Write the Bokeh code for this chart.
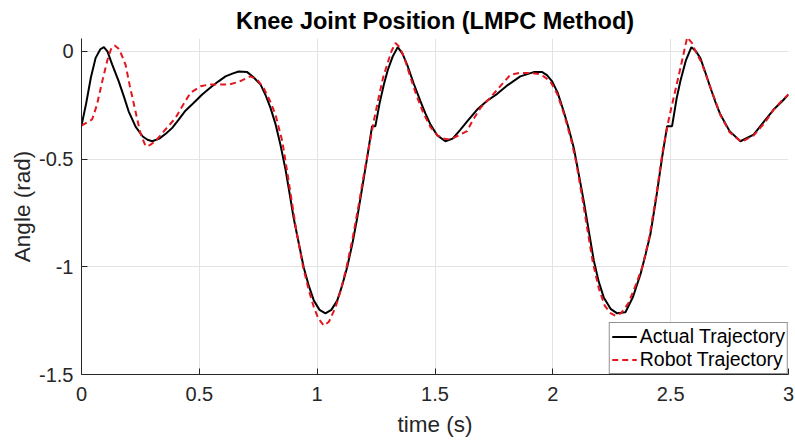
from bokeh.plotting import figure
from bokeh.models import Range1d, FixedTicker, Legend, LegendItem
from bokeh.embed import file_html
from bokeh.resources import INLINE

# ---- data ----
t_actual = [0, 0.02, 0.04, 0.06, 0.08, 0.095, 0.11, 0.13, 0.158, 0.18, 0.2, 0.23, 0.26, 0.28, 0.30,
            0.33, 0.36, 0.385, 0.41, 0.441, 0.47, 0.512, 0.55, 0.58, 0.611, 0.64, 0.667, 0.703, 0.73,
            0.76, 0.78, 0.802, 0.824, 0.844, 0.866, 0.88, 0.90, 0.92, 0.943, 0.965, 0.986, 1.01, 1.035,
            1.06, 1.085, 1.105, 1.127, 1.15, 1.17, 1.19, 1.212, 1.233, 1.247, 1.265, 1.283, 1.30, 1.32,
            1.342, 1.362, 1.382, 1.41, 1.438, 1.46, 1.481, 1.51, 1.544, 1.575, 1.608, 1.64, 1.679, 1.72,
            1.764, 1.81, 1.862, 1.919, 1.955, 1.975, 1.997, 2.02, 2.046, 2.068, 2.089, 2.11, 2.131,
            2.152, 2.174, 2.195, 2.216, 2.245, 2.273, 2.308, 2.34, 2.372, 2.394, 2.414, 2.44, 2.464,
            2.485, 2.506, 2.525, 2.541, 2.565, 2.588, 2.608, 2.626, 2.648, 2.669, 2.69, 2.711, 2.75,
            2.796, 2.852, 2.9, 2.937, 2.97, 3.0]
y_actual = [-0.344, -0.24, -0.12, -0.03, 0.01, 0.02, 0.0, -0.06, -0.139, -0.21, -0.278, -0.35, -0.395,
            -0.41, -0.417, -0.405, -0.38, -0.355, -0.32, -0.275, -0.245, -0.2, -0.165, -0.14, -0.116,
            -0.103, -0.093, -0.096, -0.12, -0.154, -0.2, -0.262, -0.34, -0.432, -0.55, -0.64, -0.772,
            -0.88, -1.003, -1.09, -1.157, -1.2, -1.216, -1.2, -1.157, -1.09, -1.003, -0.89, -0.772,
            -0.64, -0.494, -0.347, -0.347, -0.24, -0.154, -0.085, -0.025, 0.02, -0.01, -0.062, -0.15,
            -0.231, -0.29, -0.34, -0.39, -0.417, -0.405, -0.363, -0.32, -0.27, -0.23, -0.197, -0.155,
            -0.116, -0.096, -0.096, -0.11, -0.139, -0.19, -0.278, -0.36, -0.448, -0.57, -0.694, -0.83,
            -0.972, -1.07, -1.142, -1.195, -1.216, -1.211, -1.14, -1.034, -0.94, -0.849, -0.67, -0.49,
            -0.347, -0.347, -0.22, -0.139, -0.04, 0.02, 0.0, -0.031, -0.1, -0.17, -0.235, -0.293, -0.37,
            -0.417, -0.386, -0.32, -0.27, -0.235, -0.2]

t_robot = [0, 0.045, 0.065, 0.088, 0.11, 0.125, 0.141, 0.16, 0.187, 0.205, 0.229, 0.25, 0.272, 0.29,
           0.314, 0.35, 0.399, 0.43, 0.462, 0.505, 0.54, 0.58, 0.625, 0.67, 0.717, 0.745, 0.773, 0.8,
           0.823, 0.852, 0.873, 0.89, 0.91, 0.94, 0.965, 0.986, 1.005, 1.028, 1.05, 1.078, 1.1, 1.125,
           1.15, 1.175, 1.2, 1.24, 1.26, 1.28, 1.30, 1.315, 1.332, 1.35, 1.37, 1.39, 1.42, 1.45, 1.48,
           1.51, 1.54, 1.565, 1.6, 1.636, 1.66, 1.693, 1.73, 1.77, 1.82, 1.86, 1.905, 1.94, 1.961, 1.99,
           2.02, 2.05, 2.08, 2.1, 2.125, 2.15, 2.17, 2.195, 2.22, 2.245, 2.266, 2.29, 2.32, 2.35, 2.38,
           2.41, 2.44, 2.465, 2.493, 2.52, 2.545, 2.57, 2.59, 2.61, 2.63, 2.65, 2.67, 2.71, 2.75, 2.8,
           2.852, 2.9, 2.937, 2.97, 3.0]
y_robot = [-0.344, -0.316, -0.25, -0.139, -0.04, 0.01, 0.028, 0.01, -0.062, -0.16, -0.278, -0.38,
           -0.44, -0.435, -0.417, -0.37, -0.309, -0.25, -0.193, -0.162, -0.154, -0.154, -0.154, -0.14,
           -0.116, -0.13, -0.17, -0.23, -0.293, -0.417, -0.56, -0.68, -0.82, -1.0, -1.11, -1.188, -1.24,
           -1.273, -1.255, -1.188, -1.11, -1.0, -0.87, -0.72, -0.56, -0.324, -0.22, -0.12, -0.05, 0.0,
           0.039, 0.02, -0.03, -0.1, -0.2, -0.285, -0.35, -0.39, -0.405, -0.409, -0.39, -0.37, -0.32,
           -0.262, -0.22, -0.17, -0.108, -0.1, -0.1, -0.105, -0.116, -0.14, -0.2, -0.3, -0.42, -0.52,
           -0.68, -0.85, -0.98, -1.1, -1.18, -1.215, -1.227, -1.215, -1.17, -1.09, -1.0, -0.86, -0.66,
           -0.47, -0.309, -0.18, -0.06, 0.065, 0.04, -0.01, -0.05, -0.11, -0.17, -0.293, -0.375, -0.42,
           -0.39, -0.33, -0.27, -0.23, -0.2]

x_ticks = [0, 0.5, 1, 1.5, 2, 2.5, 3]
x_tick_labels = ["0", "0.5", "1", "1.5", "2", "2.5", "3"]
y_ticks = [-1.5, -1, -0.5, 0]
y_tick_labels = ["-1.5", "-1", "-0.5", "0"]

FONT = "Liberation Sans"

p = figure(width=795, height=443, output_backend="svg", toolbar_location=None,
           x_range=Range1d(0, 3), y_range=Range1d(-1.5, 0.06),
           min_border_left=81, min_border_right=7, min_border_top=37, min_border_bottom=69)

p.title.text = "Knee Joint Position (LMPC Method)"
p.title.align = "center"
p.title.text_font = FONT
p.title.text_font_size = "23.5px"
p.title.text_font_style = "bold"
p.title.text_color = "#000000"
p.title.offset = 55

p.outline_line_color = None
p.background_fill_color = "white"
p.border_fill_color = "white"

for ax in (p.xaxis[0], p.yaxis[0]):
    ax.axis_line_color = "#262626"
    ax.axis_line_width = 1
    ax.major_tick_line_color = "#262626"
    ax.major_tick_in = 6
    ax.major_tick_out = 0
    ax.minor_tick_line_color = None
    ax.major_label_text_font = FONT
    ax.major_label_text_font_size = "20px"
    ax.major_label_text_color = "#262626"
    ax.axis_label_text_font = FONT
    ax.axis_label_text_font_size = "22.5px"
    ax.axis_label_text_font_style = "normal"
    ax.axis_label_text_color = "#262626"

p.xaxis.ticker = FixedTicker(ticks=x_ticks)
p.yaxis.ticker = FixedTicker(ticks=y_ticks)
p.xaxis.major_label_overrides = {k: v for k, v in zip(x_ticks, x_tick_labels)}
p.yaxis.major_label_overrides = {k: v for k, v in zip(y_ticks, y_tick_labels)}
p.xaxis.axis_label = "time (s)"
p.yaxis.axis_label = "Angle (rad)"
p.xaxis.major_label_standoff = 12
p.yaxis.major_label_standoff = 8
p.xaxis.axis_label_standoff = 8
p.yaxis.axis_label_standoff = 1

p.xgrid.grid_line_color = "#e3e3e3"
p.ygrid.grid_line_color = "#e3e3e3"
p.xgrid.grid_line_width = 1
p.ygrid.grid_line_width = 1

r1 = p.line(t_actual, y_actual, line_color="black", line_width=2)
r2 = p.line(t_robot, y_robot, line_color="#e4161e", line_width=2, line_dash="6 4")

legend = Legend(items=[LegendItem(label="Actual Trajectory", renderers=[r1]),
                       LegendItem(label="Robot Trajectory", renderers=[r2])],
                location="bottom_right")
legend.label_text_font = FONT
legend.label_text_font_size = "19.5px"
legend.label_text_color = "#000000"
legend.border_line_color = "#262626"
legend.border_line_width = 1
legend.background_fill_alpha = 1
legend.margin = 0
legend.padding = 2
legend.spacing = 0
legend.glyph_width = 25
legend.glyph_height = 23
legend.label_standoff = 3
legend.label_height = 23
p.add_layout(legend, "center")

open("out.html", "w").write(file_html(p, INLINE))
